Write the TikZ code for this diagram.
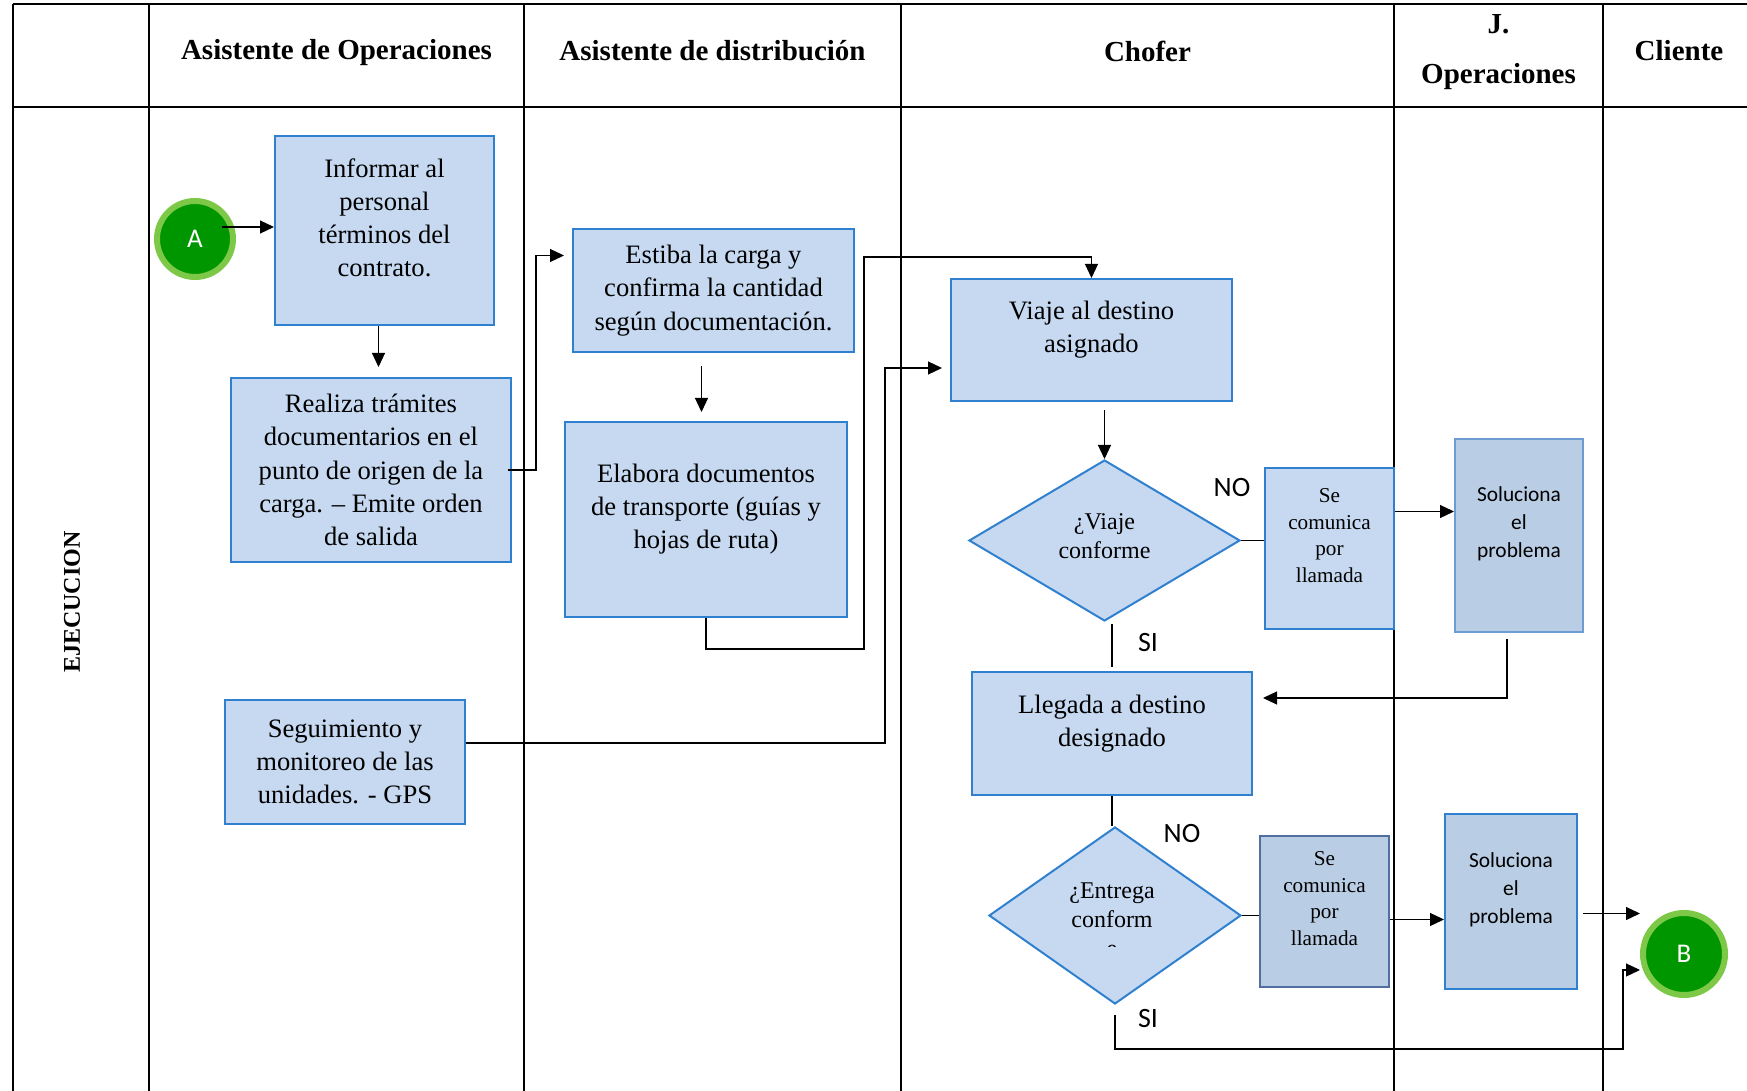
\documentclass[tikz,border=0pt]{standalone}
\usepackage{fontspec}
\setmainfont{Liberation Serif}
\newfontfamily\calibrifont{Carlito}
\usepackage{xcolor}
\usetikzlibrary{shapes.geometric,arrows.meta}

\definecolor{boxfill}{RGB}{198,217,241}
\definecolor{boxline}{RGB}{47,128,207}
\definecolor{solfill}{RGB}{185,205,228}
\definecolor{solline}{RGB}{110,155,210}
\definecolor{callline}{RGB}{80,110,160}
\definecolor{ringgreen}{RGB}{125,200,70}
\definecolor{darkgreen}{RGB}{0,150,0}

\begin{document}
\begin{tikzpicture}[
    x=0.5pt, y=-0.5pt,
    grid/.style={line width=0.6pt},
    box/.style={rectangle, draw=boxline, fill=boxfill, line width=1pt, align=center, inner sep=2pt, font=\fontsize{13.3}{16.6}\selectfont},
    lifted/.style={text depth=13pt},
    decision/.style={diamond, draw=boxline, fill=boxfill, line width=1pt, shape aspect=1.7, inner sep=0pt, align=center, font=\fontsize{12}{14.5}\selectfont},
    callbox/.style={box, lifted, font=\fontsize{10.6}{13.2}\selectfont},
    solbox/.style={box, lifted, fill=solfill, draw=solline, font=\calibrifont\fontsize{10.7}{14}\selectfont},
    header/.style={align=center, font=\bfseries\fontsize{14.5}{25}\selectfont},
    connector/.style={circle, fill=darkgreen, draw=ringgreen, line width=3pt, text=white, inner sep=0pt, font=\calibrifont\fontsize{13.5}{16}\selectfont},
    answer/.style={font=\calibrifont\fontsize{14}{16}\selectfont},
    link/.style={line width=0.6pt},
    arrow/.style={link, -{Triangle[length=7pt,width=6.5pt]}}
]
    \useasboundingbox (0,0) rectangle (1747,1091);

    % swimlane table
    \draw[grid, line width=1pt] (13,4) -- (1747,4);
    \draw[grid, line width=1pt] (13,107) -- (1747,107);
    \draw[grid] (13,4) -- (13,1091);
    \foreach \x in {149,524,901,1394,1603}
        \draw[grid] (\x,4) -- (\x,1091);

    \node[header] (hOps) at (336.5,53) {Asistente de Operaciones};
    \node[header] (hDist) at (712.5,51) {Asistente de distribución};
    \node[header] (hChofer) at (1147.5,51) {Chofer};
    \node[header] (hJefe) at (1498.5,52) {J.\\Operaciones};
    \node[header] (hCliente) at (1679,51) {Cliente};
    \node[header, font=\bfseries\fontsize{12}{14}\selectfont, rotate=90] (ejecucion) at (72,602) {EJECUCION};

    % process steps
    \node[connector, minimum size=38pt] (A) at (195,239) {A};
    \node[box, lifted, minimum width=109.5pt, minimum height=94.5pt] (informar) at (384.5,230.5) {Informar al\\personal\\términos del\\contrato.};
    \node[box, minimum width=140pt, minimum height=92pt] (realiza) at (371,470) {Realiza trámites\\documentarios en el\\punto de origen de la\\carga. – Emite orden\\de salida};
    \node[box, minimum width=140.5pt, minimum height=61.5pt] (estiba) at (713.5,290.5) {Estiba la carga y\\confirma la cantidad\\según documentación.};
    \node[box, lifted, minimum width=141pt, minimum height=97.5pt] (elabora) at (706,519.5) {Elabora documentos\\de transporte (guías y\\hojas de ruta)};
    \node[box, minimum width=120pt, minimum height=62pt] (seguimiento) at (345,762) {Seguimiento y\\monitoreo de las\\unidades. - GPS};
    \node[box, lifted, minimum width=140.5pt, minimum height=61pt] (viaje) at (1091.5,340) {Viaje al destino\\asignado};
    \node[decision, text depth=4pt, minimum width=135.5pt, minimum height=80.5pt] (dia1) at (1104.5,540.5) {¿Viaje\\conforme};
    \node[callbox, minimum width=64.5pt, minimum height=80.5pt] (se1) at (1329.5,548.5) {Se\\comunica\\por\\llamada};
    \node[solbox, minimum width=64pt, minimum height=96.5pt] (sol1) at (1519,535.5) {Soluciona\\el\\problema};
    \node[box, lifted, minimum width=140pt, minimum height=61.5pt] (llegada) at (1112,733.5) {Llegada a destino\\designado};
    \node[decision, minimum width=126pt, minimum height=88.5pt] (dia2) at (1115,915.5) {};
    \begin{scope}
        \clip (989,820) rectangle (1241,946);
        \node[align=center, font=\fontsize{12}{14.5}\selectfont] (dia2text) at (1112,920) {¿Entrega\\conform\\e};
    \end{scope}
    \node[callbox, fill=solfill, draw=callline, minimum width=64.5pt, minimum height=75.5pt] (se2) at (1324.5,911.5) {Se\\comunica\\por\\llamada};
    \node[solbox, draw=boxline, minimum width=66pt, minimum height=87.5pt] (sol2) at (1511,901.5) {Soluciona\\el\\problema};
    \node[connector, minimum size=41pt] (B) at (1684,954) {B};

    \node[answer] (noViaje) at (1232,488) {NO};
    \node[answer] (siViaje) at (1148,643) {SI};
    \node[answer] (noEntrega) at (1182,834) {NO};
    \node[answer] (siEntrega) at (1148,1019) {SI};

    % flow
    \draw[arrow] ([xshift=13.5pt,yshift=6pt]A.center) -- ([yshift=6pt]A.center -| informar.west);
    \draw[arrow, shorten >=5pt] ([xshift=-3pt]informar.south) -- ([xshift=-3pt]informar.south |- realiza.north);
    \draw[arrow, shorten >=4pt] ([xshift=-2pt]realiza.east) -- ++(28,0) |- ([yshift=17.5pt]estiba.west);
    \draw[arrow, shorten <=6.5pt, shorten >=4.5pt] ([xshift=-6pt]estiba.south) -- ([xshift=-6pt]estiba.south |- elabora.north);
    \draw[arrow] (elabora.south) -- ++(0,31) -| ++(158,-392) -| (viaje.north);
    \draw[arrow, shorten >=4pt] ([yshift=9.5pt]seguimiento.east) -- ++(419,0) |- ([yshift=-14pt]viaje.west);
    \draw[arrow, shorten <=4pt] (viaje.south -| dia1.north) -- (dia1.north);
    \draw[link] (dia1.east) -- (dia1.east -| se1.west);
    \draw[arrow] ([yshift=18.5pt]se1.east) -- ([yshift=18.5pt]se1.east -| sol1.west);
    \draw[arrow, shorten <=3pt, shorten >=5pt] ([xshift=-6pt]sol1.south) |- ([yshift=17.75pt]llegada.east);
    \draw[link, shorten <=1pt, shorten >=2pt] (llegada.north |- dia1.south) -- (llegada.north);
    \draw[link] (llegada.south) -- (llegada.south |- dia2.north);
    \draw[link] (dia2.east) -- (dia2.east -| se2.west);
    \draw[arrow] ([yshift=-4pt]se2.east) -- ([yshift=-4pt]se2.east -| sol2.west);
    \draw[arrow, shorten <=2.5pt] ([yshift=-6pt]sol2.east) -- ([yshift=-6pt]sol2.east -| B.west);
    \draw[arrow, shorten <=5pt] (dia2.south) |- ++(508,44) |- ([yshift=-8pt]B.west);
\end{tikzpicture}
\end{document}
